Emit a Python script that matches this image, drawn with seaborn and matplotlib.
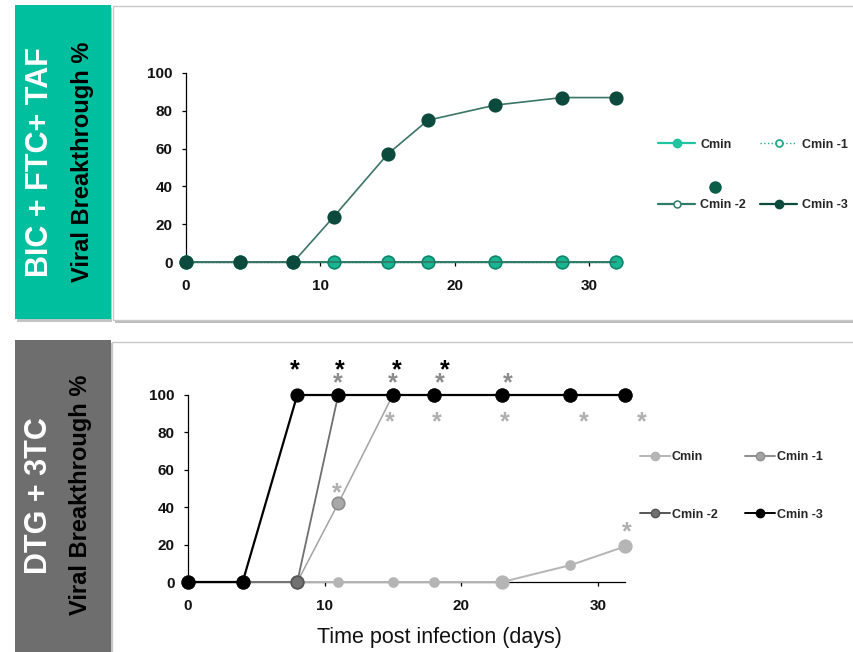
import matplotlib
matplotlib.use("Agg")
import matplotlib.pyplot as plt
from matplotlib.patches import Rectangle
from matplotlib.lines import Line2D
import seaborn as sns
import pandas as pd

sns.set_theme(style="white")
plt.rcParams["font.family"] = ["Liberation Sans", "DejaVu Sans"]

# ---- data ---------------------------------------------------------------
days = [0, 4, 8, 11, 15, 18, 23, 28, 32]
series_names = ["Cmin", "Cmin -1", "Cmin -2", "Cmin -3"]

# BIC + FTC + TAF: viral breakthrough (%)
bic_cmin = [0, 0, 0, 0, 0, 0, 0, 0, 0]
bic_cmin1 = [0, 0, 0, 0, 0, 0, 0, 0, 0]
bic_cmin2 = [0, 0, 0, 0, 0, 0, 0, 0, 0]
bic_cmin3 = [0, 0, 0, 24, 57, 75, 83, 87, 87]

# DTG + 3TC: viral breakthrough (%)
dtg_cmin = [0, 0, 0, 0, 0, 0, 0, 9, 19]
dtg_cmin1 = [0, 0, 0, 42, 100, 100, 100, 100, 100]
dtg_cmin2 = [0, 0, 0, 100, 100, 100, 100, 100, 100]
dtg_cmin3 = [0, 0, 100, 100, 100, 100, 100, 100, 100]

# significance asterisks (day, level)
star_black_x = [7.8, 11.1, 15.3, 18.8]
star_black_y = [117, 117, 117, 117]
star_mid_x = [11.0, 15.0, 18.4, 23.4]
star_mid_y = [110, 110, 110, 110]
star_light_x = [10.9, 14.8, 18.2, 23.2, 29.0, 33.2, 32.1]
star_light_y = [51, 89, 89, 89, 89, 89, 30]

x_ticks = [0, 10, 20, 30]
y_ticks = [0, 20, 40, 60, 80, 100]

# ---- figure -------------------------------------------------------------
W, H = 854, 652
fig = plt.figure(figsize=(W / 100, H / 100), dpi=100)
fig.patch.set_facecolor("white")


def fx(px):
    return px / W


def fy(py):
    return 1 - py / H


def frame(x0, y0, x1, y1):
    # white card with a soft grey shadow
    fig.patches.append(Rectangle((fx(x0 + 2), fy(y1 + 3)), fx(x1 - x0), (y1 - y0) / H,
                                 transform=fig.transFigure, facecolor="#bdbdbd",
                                 edgecolor="none", zorder=-3))
    fig.patches.append(Rectangle((fx(x0), fy(y1)), fx(x1 - x0), (y1 - y0) / H,
                                 transform=fig.transFigure, facecolor="white",
                                 edgecolor="#c8c8c8", lw=1.0, zorder=-2))


def side_box(x0, y0, x1, y1, color):
    fig.patches.append(Rectangle((fx(x0 + 1), fy(y1 + 3)), fx(x1 - x0), (y1 - y0) / H,
                                 transform=fig.transFigure, facecolor="#c4c4c4",
                                 edgecolor="none", zorder=-3))
    fig.patches.append(Rectangle((fx(x0), fy(y1)), fx(x1 - x0), (y1 - y0) / H,
                                 transform=fig.transFigure, facecolor=color,
                                 edgecolor="none", zorder=-2))


frame(113, 6, 870, 320)
frame(112, 342, 870, 700)
side_box(15.5, 4.5, 111, 318.5, "#00bf9e")
side_box(15.5, 340, 111, 700, "#6e6e6e")

fig.text(fx(40), fy(162), "BIC + FTC+ TAF", rotation=90, color="white",
         fontsize=22, fontweight="bold", ha="center", va="center")
fig.text(fx(83), fy(162), "Viral Breakthrough %", rotation=90, color="black",
         fontsize=17, fontweight="bold", ha="center", va="center")
fig.text(fx(39), fy(496), "DTG + 3TC", rotation=90, color="white",
         fontsize=22, fontweight="bold", ha="center", va="center")
fig.text(fx(81), fy(495), "Viral Breakthrough %", rotation=90, color="black",
         fontsize=17, fontweight="bold", ha="center", va="center")
fig.text(fx(439), fy(638), "Time post infection (days)", color="#111111",
         fontsize=15.5, ha="center", va="center")


def style_axes(ax):
    ax.set_xlim(0, 32)
    ax.set_ylim(0, 100)
    ax.set_xticks(x_ticks)
    ax.set_yticks(y_ticks)
    ax.patch.set_alpha(0)
    for s in ["top", "right"]:
        ax.spines[s].set_visible(False)
    for s in ["left", "bottom"]:
        ax.spines[s].set_color("black")
        ax.spines[s].set_linewidth(0.9)
    ax.tick_params(axis="both", direction="out", length=3, width=0.9,
                   color="black", labelsize=11, labelcolor="#111111")
    ax.tick_params(axis="y", pad=6.5, left=True)
    ax.tick_params(axis="x", pad=9, bottom=True)
    for lab in ax.get_xticklabels() + ax.get_yticklabels():
        lab.set_fontweight("bold")
    ax.set_xlabel("")
    ax.set_ylabel("")


def draw(ax, y, color, mfc, mec, ms, ls="-", lw=1.4, lcolor=None, z=3, mew=1.2):
    df = pd.DataFrame({"day": days, "pct": y})
    sns.lineplot(data=df, x="day", y="pct", ax=ax, color=lcolor or color,
                 linestyle=ls, linewidth=lw, marker="o", markersize=ms,
                 markerfacecolor=mfc, markeredgecolor=mec, markeredgewidth=mew,
                 clip_on=False, zorder=z, legend=False)


def row_major(items):
    # legend fills column by column; reorder so entries read across rows
    return [items[0], items[2], items[1], items[3]]


# ---- top panel: BIC + FTC + TAF -----------------------------------------
ax1 = fig.add_axes([fx(186), fy(262), fx(616) - fx(186), (262 - 73) / H])
draw(ax1, bic_cmin1, "#27a88a", "none", "#27a88a", 6, ls=":", lw=1.0, z=2.9)
draw(ax1, bic_cmin, "#17b591", "#17b591", "#17b591", 9, z=3)
draw(ax1, bic_cmin2, "#2f7d69", "none", "#14806a", 9, z=3.2, mew=1.0)
draw(ax1, bic_cmin3, "#0b4a3c", "#0b4a3c", "#0b4a3c", 9, lcolor="#3b7565",
     lw=1.2, z=3.3)
style_axes(ax1)

leg1 = [
    Line2D([], [], color="#20c4a0", lw=1.6, marker="o", ms=6,
           mfc="#20c4a0", mec="#20c4a0"),
    Line2D([], [], color="#27a88a", lw=1.0, ls=":", marker="o", ms=5,
           mfc="white", mec="#27a88a", mew=1.3),
    Line2D([], [], color="#2f7d69", lw=1.6, marker="o", ms=5,
           mfc="white", mec="#2f7d69", mew=1.1),
    Line2D([], [], color="#0b4a3c", lw=1.6, marker="o", ms=6,
           mfc="#0b4a3c", mec="#0b4a3c"),
]
ax1.legend(row_major(leg1), row_major(series_names), ncol=2, frameon=False,
           loc="center left", bbox_to_anchor=(fx(658), fy(175)),
           bbox_transform=fig.transFigure,
           prop={"size": 9, "weight": "bold"}, handlelength=3.0,
           handletextpad=0.4, columnspacing=1.1, labelspacing=3.9,
           borderpad=0, borderaxespad=0)
fig.add_artist(Line2D([fx(715)], [fy(187)], marker="o", ms=8, color="#0b5e4a",
                      transform=fig.transFigure))

# ---- bottom panel: DTG + 3TC --------------------------------------------
ax2 = fig.add_axes([fx(188), fy(582), fx(625) - fx(188), (582 - 395) / H])
draw(ax2, dtg_cmin, "#b5b5b5", "#b5b5b5", "#b5b5b5", 6.5, z=3)
sns.scatterplot(x=[days[6], days[8]], y=[dtg_cmin[6], dtg_cmin[8]], ax=ax2,
                color="#b5b5b5", s=90, edgecolor="#b5b5b5", clip_on=False,
                zorder=3.05, legend=False)
draw(ax2, dtg_cmin1, "#a3a3a3", "#a8a8a8", "#8d8d8d", 9, lw=1.1, z=3.1)
draw(ax2, dtg_cmin2, "#6f6f6f", "#727272", "#555555", 9, lw=1.3, z=3.2)
draw(ax2, dtg_cmin3, "black", "black", "black", 9, lw=1.6, z=3.3)
style_axes(ax2)


def stars(ax, xs, ys, color):
    for x, y in zip(xs, ys):
        ax.annotate("*", (x, y), xytext=(0, -10), textcoords="offset points",
                    ha="center", va="baseline", fontsize=18, fontweight="bold",
                    color=color, annotation_clip=False, zorder=5)


stars(ax2, star_light_x, star_light_y, "#b0b0b0")
stars(ax2, star_mid_x, star_mid_y, "#8c8c8c")
stars(ax2, star_black_x, star_black_y, "black")

leg2 = [
    Line2D([], [], color="#b5b5b5", lw=1.4, marker="o", ms=6,
           mfc="#b5b5b5", mec="#b5b5b5"),
    Line2D([], [], color="#8d8d8d", lw=1.4, marker="o", ms=6,
           mfc="#a3a3a3", mec="#8d8d8d"),
    Line2D([], [], color="#555555", lw=1.4, marker="o", ms=6,
           mfc="#707070", mec="#555555"),
    Line2D([], [], color="black", lw=1.4, marker="o", ms=6,
           mfc="black", mec="black"),
]
ax2.legend(row_major(leg2), row_major(series_names), ncol=2, frameon=False,
           loc="center left", bbox_to_anchor=(fx(640), fy(486)),
           bbox_transform=fig.transFigure,
           prop={"size": 9, "weight": "bold"}, handlelength=2.4,
           handletextpad=0.15, columnspacing=2.2, labelspacing=3.6,
           borderpad=0, borderaxespad=0)

fig.savefig("out.png", dpi=100, facecolor="white")
